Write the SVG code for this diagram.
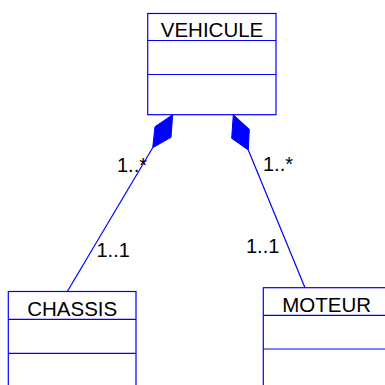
<svg xmlns="http://www.w3.org/2000/svg" width="385" height="385" viewBox="0 0 385 385">
<style>
.box{fill:#fff;stroke:#0000ff;stroke-width:1.2}
.ln{stroke:#0000ff;stroke-width:1.2;fill:none}
.dm{fill:#0000ff;stroke:#0000ff;stroke-width:1}
.t{font-family:"Liberation Sans",Arial,sans-serif;font-size:20.5px;fill:#000}
.m{font-family:"Liberation Sans",Arial,sans-serif;font-size:20px;fill:#000}
</style>
<rect width="385" height="385" fill="#fff"/>
<g id="connectors">
<line class="ln" x1="152.7" y1="147.7" x2="67.3" y2="291.5"/>
<polygon class="dm" points="172.7,114.7 155,126.7 152.7,147.7 171,137.3"/>
<line class="ln" x1="248.3" y1="150" x2="305" y2="287.7"/>
<polygon class="dm" points="233.3,114.7 231.7,138.3 248.3,150 249.3,129.3"/>
<text class="m" x="117" y="171.5">1..*</text>
<text class="m" x="263" y="171">1..*</text>
<text class="m" x="96.5" y="256.5">1..1</text>
<text class="m" x="246" y="253">1..1</text>
</g>
<g id="vehicule">
<rect class="box" x="147.7" y="13.5" width="128.3" height="101.2"/>
<line class="ln" x1="147.7" y1="40.5" x2="276" y2="40.5"/>
<line class="ln" x1="147.7" y1="74.5" x2="276" y2="74.5"/>
<text class="t" x="212" y="36.7" text-anchor="middle">VEHICULE</text>
</g>
<g id="chassis">
<rect class="box" x="8.3" y="291.5" width="127.7" height="110"/>
<line class="ln" x1="8.3" y1="319.3" x2="136" y2="319.3"/>
<line class="ln" x1="8.3" y1="353.3" x2="136" y2="353.3"/>
<text class="t" x="72.2" y="315.7" text-anchor="middle">CHASSIS</text>
</g>
<g id="moteur">
<rect class="box" x="263.3" y="287.7" width="127" height="110"/>
<line class="ln" x1="263.3" y1="315.3" x2="390.3" y2="315.3"/>
<line class="ln" x1="263.3" y1="349" x2="390.3" y2="349"/>
<text class="t" x="326.7" y="311.7" text-anchor="middle">MOTEUR</text>
</g>
</svg>
